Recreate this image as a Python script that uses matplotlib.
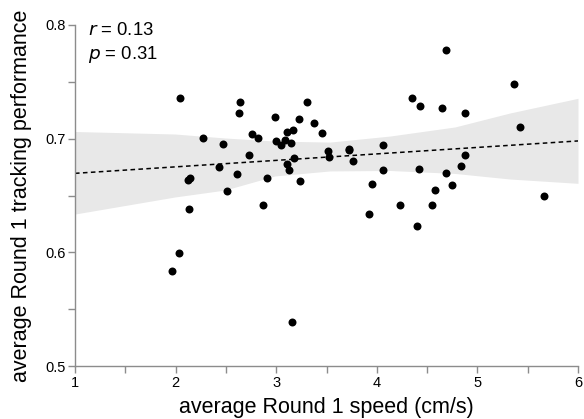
import numpy as np
import matplotlib
matplotlib.use("Agg")
import matplotlib.pyplot as plt
from matplotlib.ticker import MultipleLocator

plt.rcParams['font.family'] = ['Liberation Sans', 'DejaVu Sans']

# Scatter data: average Round 1 speed (cm/s) vs tracking performance
speed = [2.047, 2.640, 2.627, 3.309, 2.990, 3.229, 3.378, 3.458, 2.762, 2.819,
         2.275, 3.105, 3.170, 3.001, 3.048, 3.092, 3.149, 2.468, 3.510, 3.520,
         2.730, 3.174, 3.105, 3.127, 2.434, 2.615, 2.909, 3.240, 2.126, 2.140,
         2.511, 2.866, 2.138, 2.034, 1.967, 3.160, 4.691, 5.364, 4.353, 4.429,
         4.648, 4.874, 5.420, 3.719, 3.727, 3.763, 4.059, 4.059, 3.955, 3.922,
         4.228, 4.419, 4.397, 4.549, 4.579, 4.691, 4.750, 4.840, 4.874, 5.659]
performance = [0.736, 0.732, 0.723, 0.732, 0.719, 0.717, 0.714, 0.705, 0.704, 0.701,
               0.701, 0.706, 0.708, 0.698, 0.694, 0.699, 0.696, 0.695, 0.689, 0.684,
               0.686, 0.683, 0.678, 0.672, 0.675, 0.669, 0.665, 0.663, 0.664, 0.665,
               0.654, 0.642, 0.638, 0.599, 0.584, 0.539, 0.778, 0.748, 0.736, 0.729,
               0.727, 0.723, 0.710, 0.691, 0.690, 0.680, 0.694, 0.672, 0.660, 0.634,
               0.642, 0.673, 0.623, 0.642, 0.655, 0.670, 0.659, 0.676, 0.686, 0.650]

# Regression fit and its confidence band edges
fit_intercept = 0.6638
fit_slope = 0.0057
band_x = [1.0, 1.994, 2.491, 2.988, 3.535, 4.131, 4.777, 5.324, 6.0]
band_hi = [0.7063, 0.7041, 0.7006, 0.6979, 0.6970, 0.7023, 0.7103, 0.7226, 0.7355]
band_lo = [0.6337, 0.6487, 0.6548, 0.6672, 0.6716, 0.6720, 0.6694, 0.6645, 0.6607]

stats_text = ["$r$ = 0.13", "$p$ = 0.31"]
x_ticks = [1, 2, 3, 4, 5, 6]
y_ticks = [0.5, 0.6, 0.7, 0.8]

fig = plt.figure(figsize=(5.84, 4.19), dpi=100)
ax = fig.add_axes([75/584, 1-366/419, (578-75)/584, (366-25)/419])

ax.fill_between(band_x, band_lo, band_hi, color='#e8e8e8', lw=0, zorder=1)

xs = np.array([1.0, 6.0])
ax.plot(xs, fit_intercept + fit_slope * xs, color='black', lw=1.1,
        ls=(0, (3, 2.2)), zorder=2)

ax.scatter(speed, performance, s=33, color='black', lw=0, zorder=3)

ax.set_xlim(1, 6)
ax.set_ylim(0.5, 0.8)
ax.set_xticks(x_ticks)
ax.set_yticks(y_ticks)
ax.set_yticklabels([f"{v:.1f}" for v in y_ticks])
ax.xaxis.set_minor_locator(MultipleLocator(0.5))
ax.yaxis.set_minor_locator(MultipleLocator(0.05))

for s in ['top', 'right']:
    ax.spines[s].set_visible(False)
for s in ['left', 'bottom']:
    ax.spines[s].set_color('#8c8c8c')
    ax.spines[s].set_linewidth(1.0)
ax.tick_params(which='both', direction='out', length=5, width=1.0, color='#8c8c8c',
               labelsize=10.5, labelcolor='black')
ax.tick_params(axis='x', pad=2)
ax.tick_params(axis='y', pad=2)

ax.set_xlabel("average Round 1 speed (cm/s)", fontsize=15.5, labelpad=5)
ax.set_ylabel("average Round 1 tracking performance", fontsize=15.5, labelpad=9)

ax.text(0.025, 1.008, stats_text[0], transform=ax.transAxes, fontsize=13.3,
        va='top', ha='left')
ax.text(0.025, 0.943, stats_text[1], transform=ax.transAxes, fontsize=13.3,
        va='top', ha='left')

fig.savefig("out.png", dpi=100)
